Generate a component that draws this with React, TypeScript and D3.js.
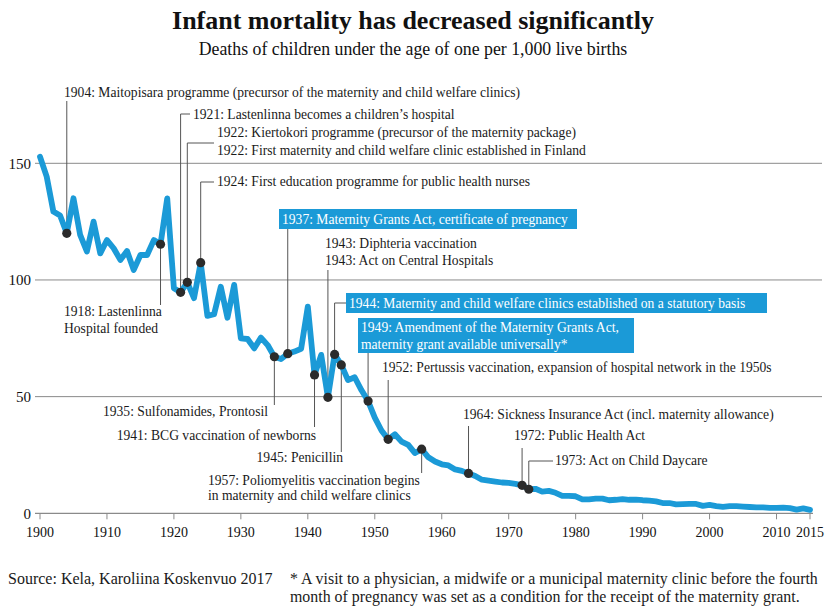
import React from "react";
import * as d3 from "d3";

// ---------- DATA ----------
const years: number[] = d3.range(1900, 2016);
const mortality: number[] = [
  152.8, 144.3, 129.3, 127.6, 120.0, 135.0, 119.3, 112.2, 125.0, 111.4, // 1900-1909
  117.1, 113.6, 108.6, 112.4, 104.3, 110.7, 110.7, 117.1, 115.3, 135.0, // 1910-1919
  96.4, 94.7, 99.0, 92.2, 107.4, 84.6, 85.3, 97.1, 83.8, 97.9, // 1920-1929
  75.0, 74.7, 70.7, 75.3, 72.1, 67.1, 66.1, 68.4, 69.3, 70.5, // 1930-1939
  88.6, 59.3, 67.9, 49.7, 68.1, 63.6, 57.1, 58.3, 52.8, 48.1, // 1940-1949
  41.0, 35.5, 31.7, 33.9, 30.7, 29.3, 25.8, 27.5, 24.0, 22.2, // 1950-1959
  21.0, 20.5, 18.8, 18.2, 17.1, 16.0, 14.4, 14.0, 13.6, 13.2, // 1960-1969
  13.0, 12.6, 12.0, 10.3, 10.5, 9.3, 9.6, 8.8, 7.5, 7.5, // 1970-1979
  7.3, 6.0, 6.0, 6.3, 6.3, 5.6, 5.8, 6.1, 5.8, 5.9, // 1980-1989
  5.6, 5.4, 5.1, 4.4, 4.4, 3.8, 3.9, 4.0, 4.0, 3.2, // 1990-1999
  3.6, 3.1, 2.8, 3.1, 3.1, 2.9, 2.7, 2.5, 2.5, 2.3, // 2000-2009
  2.3, 2.4, 2.2, 1.6, 2.1, 1.5, // 2010-2015
];
const yTicks = [0, 50, 100, 150];
const xTicks = [1900, 1910, 1920, 1930, 1940, 1950, 1960, 1970, 1980, 1990, 2000, 2010, 2015];

const titleText = "Infant mortality has decreased significantly";
const subtitleText = "Deaths of children under the age of one per 1,000 live births";
const sourceText = "Source: Kela, Karoliina Koskenvuo 2017";
const footnoteLines = [
  "* A visit to a physician, a midwife or a municipal maternity clinic before the fourth",
  "month of pregnancy was set as a condition for the receipt of the maternity grant.",
];

const eventYears = [1904, 1918, 1921, 1922, 1924, 1935, 1937, 1941, 1943, 1944, 1945, 1949, 1952, 1957, 1964, 1972, 1973];
const eventLabels: string[][] = [
  ["1904: Maitopisara programme (precursor of the maternity and child welfare clinics)"],
  ["1918: Lastenlinna", "Hospital founded"],
  ["1921: Lastenlinna becomes a children\u2019s hospital"],
  ["1922: Kiertokori programme (precursor of the maternity package)", "1922: First maternity and child welfare clinic established in Finland"],
  ["1924: First education programme for public health nurses"],
  ["1935: Sulfonamides, Prontosil"],
  ["1937: Maternity Grants Act, certificate of pregnancy"],
  ["1941: BCG vaccination of newborns"],
  ["1943: Diphteria vaccination", "1943: Act on Central Hospitals"],
  ["1944: Maternity and child welfare clinics established on a statutory basis"],
  ["1945: Penicillin"],
  ["1949: Amendment of the Maternity Grants Act,", "maternity grant available universally*"],
  ["1952: Pertussis vaccination, expansion of hospital network in the 1950s"],
  ["1957: Poliomyelitis vaccination begins", "in maternity and child welfare clinics"],
  ["1964: Sickness Insurance Act (incl. maternity allowance)"],
  ["1972: Public Health Act"],
  ["1973: Act on Child Daycare"],
];

// ---------- LAYOUT (positions only) ----------
type Lay = {
  tx: number; ty: number; anchor?: "start" | "end"; lh?: number;
  leadTo: number; elbowX?: number;
  box?: [number, number, number, number];
};
const eventLayout: Lay[] = [
  { tx: 64, ty: 97, leadTo: 101 },
  { tx: 64, ty: 316, lh: 17, leadTo: 305 },
  { tx: 193, ty: 119, leadTo: 114, elbowX: 190 },
  { tx: 217, ty: 137, lh: 18, leadTo: 143, elbowX: 214 },
  { tx: 217, ty: 186, leadTo: 182, elbowX: 214 },
  { tx: 268, ty: 416, anchor: "end", leadTo: 405 },
  { tx: 282, ty: 224, leadTo: 229, box: [279, 209, 298, 20] },
  { tx: 316, ty: 440, anchor: "end", leadTo: 427 },
  { tx: 325, ty: 248, lh: 17, leadTo: 270 },
  { tx: 349, ty: 308, leadTo: 303, elbowX: 346, box: [346, 293, 421, 20] },
  { tx: 343, ty: 462, anchor: "end", leadTo: 452 },
  { tx: 361, ty: 332, lh: 17, leadTo: 353, box: [358, 318, 276, 35] },
  { tx: 382, ty: 372, leadTo: 380 },
  { tx: 208, ty: 485, lh: 15, leadTo: 473 },
  { tx: 463, ty: 419, leadTo: 426 },
  { tx: 514, ty: 440, leadTo: 448 },
  { tx: 555, ty: 465, leadTo: 461, elbowX: 553 },
];

const BLUE = "#1b9ad7";
const FONT = "'Liberation Serif', 'Times New Roman', serif";

export default function App() {
  const W = 826, H = 608;
  const x = d3.scaleLinear().domain([1900, 2015]).range([40, 810]);
  const y = d3.scaleLinear().domain([0, 150]).range([513.3, 163.3]);
  const data = years.map((yr, i) => ({ yr, v: mortality[i] }));
  const line = d3.line<{ yr: number; v: number }>().x(d => x(d.yr)).y(d => y(d.v)).curve(d3.curveLinear);
  const valueAt = (yr: number) => mortality[years.indexOf(yr)];

  return (
    <svg width={W} height={H} style={{ position: "absolute", left: 0, top: 0, background: "#fff" }} fontFamily={FONT}>
      <rect width={W} height={H} fill="#fff" />
      <text x={413} y={29} textAnchor="middle" fontWeight="bold" fontSize={26} fill="#111">{titleText}</text>
      <text x={413} y={55} textAnchor="middle" fontSize={17.8} fill="#111">{subtitleText}</text>

      {/* grid */}
      {yTicks.filter(t => t > 0).map(t => (
        <line key={t} x1={35} x2={822} y1={y(t)} y2={y(t)} stroke="#8a8a8a" strokeWidth={1} />
      ))}
      {yTicks.map(t => (
        <text key={"yl" + t} x={31} y={y(t)} dy="0.35em" textAnchor="end" fontSize={15} fill="#111">{t}</text>
      ))}
      {/* x axis */}
      <line x1={35} x2={813} y1={y(0)} y2={y(0)} stroke="#8a8a8a" strokeWidth={1.2} />
      {xTicks.map(t => (
        <g key={"xt" + t}>
          <line x1={x(t)} x2={x(t)} y1={y(0)} y2={y(0) + 6} stroke="#8a8a8a" strokeWidth={1} />
          <text x={x(t)} y={537} textAnchor="middle" fontSize={14} fill="#111">{t}</text>
        </g>
      ))}

      {/* leaders */}
      {eventYears.map((yr, i) => {
        const L = eventLayout[i];
        const px = x(yr), py = y(valueAt(yr));
        const pts: string[] = [`${px},${py}`, `${px},${L.leadTo}`];
        if (L.elbowX !== undefined) pts.push(`${L.elbowX},${L.leadTo}`);
        return (
          <polyline key={"ld" + yr} points={pts.join(" ")} fill="none" stroke="#555" strokeWidth={1} />
        );
      })}

      {/* data line */}
      <path d={line(data) || ""} fill="none" stroke={BLUE} strokeWidth={5.8} strokeLinejoin="round" strokeLinecap="round" />

      {/* dots */}
      {eventYears.map(yr => (
        <circle key={"dot" + yr} cx={x(yr)} cy={y(valueAt(yr))} r={4.6} fill="#2b2b2b" />
      ))}

      {/* labels */}
      {eventYears.map((yr, i) => {
        const L = eventLayout[i];
        const lines = eventLabels[i];
        const lh = L.lh ?? 17;
        return (
          <g key={"lb" + yr}>
            {L.box && <rect x={L.box[0]} y={L.box[1]} width={L.box[2]} height={L.box[3]} fill={BLUE} />}
            {lines.map((s, k) => (
              <text key={k} x={L.tx} y={L.ty + k * lh} textAnchor={L.anchor ?? "start"} fontSize={13.6}
                fill={L.box ? "#fff" : "#1a1a1a"}>{s}</text>
            ))}
          </g>
        );
      })}

      {/* footer */}
      <text x={8} y={584} fontSize={16} fill="#1a1a1a">{sourceText}</text>
      {footnoteLines.map((s, k) => (
        <text key={"fn" + k} x={290} y={584 + k * 18} fontSize={15.9} fill="#1a1a1a">{s}</text>
      ))}
    </svg>
  );
}
